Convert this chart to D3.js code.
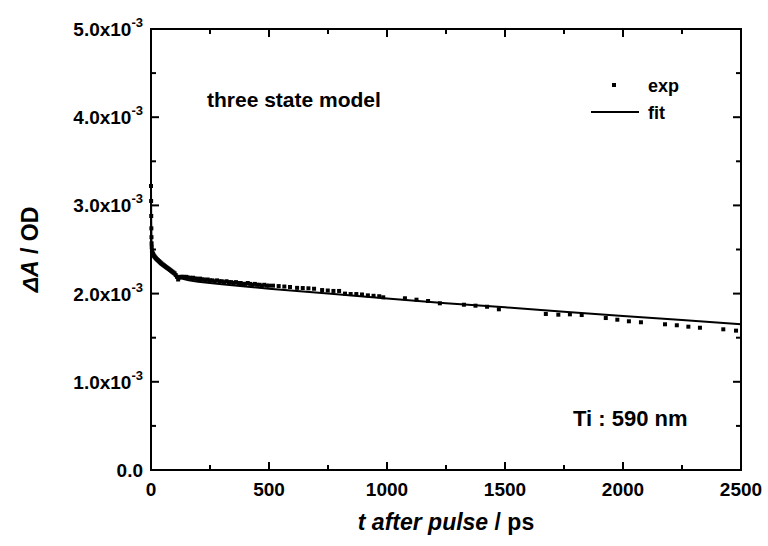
<!DOCTYPE html>
<html>
<head>
<meta charset="utf-8">
<script src="https://cdn.jsdelivr.net/npm/d3@7"></script>
<style>
  body { margin: 0; background: #fff; }
  text { font-family: Arial, "Liberation Sans", sans-serif; font-weight: bold; fill: #000; }
</style>
</head>
<body>
<div id="chart"></div>
<script>
// values, absorbance in units of 1e-3 OD
var expTime = [0, 0.5, 1, 1.5, 2, 2.5, 3, 4, 5, 6, 8, 10, 12, 15, 18, 21, 25, 29, 33, 37,
  41, 45, 50, 55, 60, 65, 70, 75, 80, 85, 90, 95, 100, 105, 110, 115, 120, 126, 132, 138,
  144, 150, 157, 164, 171, 178, 185, 192, 200, 208, 216, 224, 232, 240, 250, 260, 270, 280, 290, 300,
  310, 320, 330, 340, 350, 360, 370, 380, 390, 400, 410, 420, 430, 440, 450, 460, 470, 480, 490, 500,
  517, 541, 565, 589, 619, 643, 667, 691, 725, 749, 773, 797, 822, 846, 870, 894,
  919, 943, 967, 984, 1076, 1125, 1174, 1224, 1326, 1375, 1424, 1474,
  1673, 1726, 1775, 1825, 1927, 1976, 2025, 2076, 2178, 2228, 2277, 2326, 2425, 2479]
var expValue = [3.22, 3.05, 2.88, 2.74, 2.64, 2.57, 2.53, 2.49, 2.47, 2.46, 2.45, 2.44, 2.43, 2.42, 2.41, 2.40, 2.39, 2.38, 2.37, 2.36,
  2.35, 2.34, 2.33, 2.32, 2.31, 2.30, 2.29, 2.28, 2.27, 2.26, 2.25, 2.24, 2.23, 2.21, 2.19, 2.16, 2.18, 2.19, 2.19, 2.19,
  2.18, 2.19, 2.18, 2.18, 2.17, 2.18, 2.17, 2.17, 2.16, 2.17, 2.16, 2.16, 2.15, 2.16, 2.15, 2.15, 2.14, 2.15, 2.14, 2.14,
  2.13, 2.14, 2.13, 2.13, 2.12, 2.13, 2.12, 2.12, 2.11, 2.11, 2.12, 2.11, 2.10, 2.11, 2.10, 2.10, 2.09, 2.10, 2.09, 2.09,
  2.09, 2.085, 2.08, 2.075, 2.065, 2.063, 2.06, 2.055, 2.04, 2.035, 2.03, 2.03, 2.00, 1.995, 1.995, 1.99,
  1.98, 1.975, 1.97, 1.958, 1.947, 1.931, 1.916, 1.890, 1.874, 1.863, 1.851, 1.822,
  1.769, 1.761, 1.765, 1.757, 1.723, 1.704, 1.686, 1.675, 1.652, 1.641, 1.625, 1.613, 1.595, 1.580]

var fitTime = [0, 0.5, 1, 2, 3, 5, 10, 20, 40, 60, 80, 100, 130, 160, 200, 300, 400, 500,
  750, 1000, 1250, 1500, 1750, 2000, 2250, 2500]
var fitValue = [3.22, 3.0, 2.8, 2.6, 2.52, 2.46, 2.42, 2.38, 2.33, 2.29, 2.25, 2.21, 2.17, 2.15, 2.135, 2.105, 2.08, 2.055,
  2.0, 1.945, 1.89, 1.845, 1.795, 1.745, 1.70, 1.652]

var xTicks = [0, 500, 1000, 1500, 2000, 2500]
var yTicks = [0, 1, 2, 3, 4, 5]

var width = 768
var height = 546
var margin = {left: 151, right: 27, top: 29, bottom: 76}

var svg = d3.select("#chart")
  .append("svg")
    .attr("width", width)
    .attr("height", height)

var x = d3.scaleLinear()
  .domain([0, 2500])
  .range([margin.left, width - margin.right])

var y = d3.scaleLinear()
  .domain([0, 5])
  .range([height - margin.bottom, margin.top])

var x0 = x.range()[0], x1 = x.range()[1]
var y0 = y.range()[0], y1 = y.range()[1]

// ticks pointing inward on all four sides
var xMinor = d3.range(0, 2501, 250)
var yMinor = d3.range(0, 5.01, 0.5)

function tickLen(major) { return major ? 8 : 5 }

xMinor.forEach(function(t){
  var major = t % 500 === 0
  svg.append("line").attr("x1", x(t)).attr("x2", x(t))
    .attr("y1", y0).attr("y2", y0 - tickLen(major))
    .attr("stroke", "#000").attr("stroke-width", 2)
  svg.append("line").attr("x1", x(t)).attr("x2", x(t))
    .attr("y1", y1).attr("y2", y1 + tickLen(major))
    .attr("stroke", "#000").attr("stroke-width", 2)
})
yMinor.forEach(function(v){
  var major = Math.abs(v - Math.round(v)) < 1e-6
  svg.append("line").attr("y1", y(v)).attr("y2", y(v))
    .attr("x1", x0).attr("x2", x0 + tickLen(major))
    .attr("stroke", "#000").attr("stroke-width", 2)
  svg.append("line").attr("y1", y(v)).attr("y2", y(v))
    .attr("x1", x1).attr("x2", x1 - tickLen(major))
    .attr("stroke", "#000").attr("stroke-width", 2)
})

svg.append("rect")
  .attr("x", x0).attr("y", y1)
  .attr("width", x1 - x0).attr("height", y0 - y1)
  .attr("fill", "none")
  .attr("stroke", "#000")
  .attr("stroke-width", 2)

// tick labels
svg.selectAll(".xlab")
  .data(xTicks)
  .enter()
  .append("text")
    .attr("x", function(d){ return x(d) })
    .attr("y", y0 + 26)
    .attr("text-anchor", "middle")
    .style("font-size", "19px")
    .text(function(d){ return d })

var ylab = svg.selectAll(".ylab")
  .data(yTicks)
  .enter()
  .append("text")
    .attr("x", x0 - 8)
    .attr("y", function(d){ return y(d) + 7 })
    .attr("text-anchor", "end")
    .style("font-size", "19px")

ylab.each(function(d){
  var t = d3.select(this)
  if (d === 0) { t.text("0.0"); return }
  t.append("tspan").text(d.toFixed(1) + "x10")
  t.append("tspan").attr("dy", -9).style("font-size", "13px").text("-3")
})

// fit line
var line = d3.line()
  .x(function(d){ return x(fitTime[d]) })
  .y(function(d){ return y(fitValue[d]) })

svg.append("path")
  .datum(d3.range(fitTime.length))
  .attr("d", line)
  .attr("fill", "none")
  .attr("stroke", "#000")
  .attr("stroke-width", 2)

// exp points
svg.selectAll(".pt")
  .data(d3.range(expTime.length))
  .enter()
  .append("rect")
    .attr("x", function(i){ return x(expTime[i]) - 2 })
    .attr("y", function(i){ return y(expValue[i]) - 2 })
    .attr("width", 4)
    .attr("height", 4)
    .attr("fill", "#000")

// legend
svg.append("rect").attr("x", 612).attr("y", 83).attr("width", 4).attr("height", 4).attr("fill", "#000")
svg.append("line").attr("x1", 591).attr("x2", 639).attr("y1", 112).attr("y2", 112)
  .attr("stroke", "#000").attr("stroke-width", 2)
svg.append("text").attr("x", 648).attr("y", 92).style("font-size", "18px").text("exp")
svg.append("text").attr("x", 648).attr("y", 119).style("font-size", "18px").text("fit")

// annotations
svg.append("text").attr("x", 207).attr("y", 107).style("font-size", "21px").text("three state model")
svg.append("text").attr("x", 573).attr("y", 426).style("font-size", "22px").text("Ti : 590 nm")

// axis titles
var xt = svg.append("text")
  .attr("x", (x0 + x1) / 2)
  .attr("y", 530)
  .attr("text-anchor", "middle")
  .style("font-size", "23px")
xt.append("tspan").style("font-style", "italic").text("t after pulse")
xt.append("tspan").text(" / ps")

var yt = svg.append("text")
  .attr("transform", "translate(38," + ((y0 + y1) / 2) + ") rotate(-90)")
  .attr("text-anchor", "middle")
  .style("font-size", "23px")
yt.append("tspan").style("font-style", "italic").text("\u0394A")
yt.append("tspan").text(" / OD")
</script>
</body>
</html>
